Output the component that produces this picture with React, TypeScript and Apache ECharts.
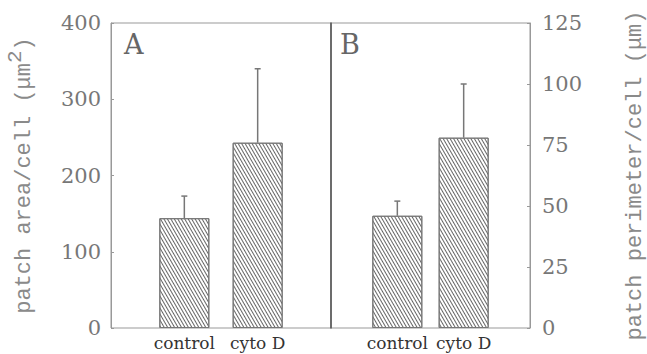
import React, { useEffect, useRef } from "react";
import * as echarts from "echarts";

const categories = ["", "control", "cyto D", ""];
const areaMeans = ["-", 144, 243, "-"];
const areaUpper = [
  [1, 144, 173],
  [2, 243, 340],
];
const perimMeans = ["-", 46, 78, "-"];
const perimUpper = [
  [1, 46, 52],
  [2, 78, 100],
];
const areaTicks = { min: 0, max: 400, interval: 100 };
const perimTicks = { min: 0, max: 125, interval: 25 };
const panelLabels = ["A", "B"];

const GRAY = "#8a8a8a";
const DARK = "#555";

const decal = {
  symbol: "rect",
  symbolSize: 1,
  dashArrayX: [1, 0],
  dashArrayY: [1, 2],
  rotation: Math.PI / 3,
  color: "#666",
  backgroundColor: "#eee",
};

function errRender(params: any, api: any) {
  const x = api.value(0);
  const lo = api.coord([x, api.value(1)]);
  const hi = api.coord([x, api.value(2)]);
  const style = { stroke: "#777", lineWidth: 1.5 };
  return {
    type: "group",
    children: [
      { type: "line", shape: { x1: lo[0], y1: lo[1], x2: hi[0], y2: hi[1] }, style },
      { type: "line", shape: { x1: hi[0] - 3, y1: hi[1], x2: hi[0] + 3, y2: hi[1] }, style },
    ],
  };
}

export default function App() {
  const ref = useRef<HTMLDivElement>(null);
  useEffect(() => {
    const chart = echarts.init(ref.current!, null, { renderer: "svg" });
    const tickLabel = { fontFamily: "DejaVu Serif", fontSize: 21, color: "#777" };
    const nameRich = {
      a: { fontFamily: "Liberation Mono", fontSize: 22, color: GRAY, lineHeight: 30, verticalAlign: "bottom" },
      s: { fontFamily: "Liberation Mono", fontSize: 21, color: GRAY, lineHeight: 30, verticalAlign: "top" },
    };
    const xAxisCommon = {
      type: "category",
      data: categories,
      boundaryGap: false,
      axisLine: { show: false },
      axisTick: { show: false },
      axisLabel: {
        interval: 0,
        fontFamily: "DejaVu Serif",
        fontSize: 17,
        color: "#333",
        margin: 6,
      },
    };
    chart.setOption({
      animation: false,
      backgroundColor: "#fff",
      grid: [
        { left: 111, top: 23, width: 220, height: 305, show: true, borderColor: "#999", borderWidth: 1 },
        { left: 331, top: 23, width: 220, height: 305, show: true, borderColor: "#999", borderWidth: 1 },
      ],
      xAxis: [
        { ...xAxisCommon, gridIndex: 0 },
        { ...xAxisCommon, gridIndex: 1 },
      ],
      yAxis: [
        {
          type: "value",
          gridIndex: 0,
          position: "left",
          ...areaTicks,
          splitLine: { show: false },
          axisLine: { show: true, lineStyle: { color: "#999" } },
          axisTick: { show: true, inside: true, length: 3, lineStyle: { color: "#999" } },
          axisLabel: { ...tickLabel, margin: 10 },
          name: "{a|patch area/cell (μm}{s|2}{a|)}",
          nameLocation: "middle",
          nameRotate: 90,
          nameGap: 76,
          nameTextStyle: { rich: nameRich },
        },
        {
          type: "value",
          gridIndex: 1,
          position: "right",
          ...perimTicks,
          splitLine: { show: false },
          axisLine: { show: true, lineStyle: { color: "#999" } },
          axisTick: { show: true, inside: true, length: 3, lineStyle: { color: "#999" } },
          axisLabel: { ...tickLabel, margin: 12 },
          name: "{a|patch perimeter/cell (μm)}",
          nameLocation: "middle",
          nameRotate: 90,
          nameGap: 86,
          nameTextStyle: { rich: nameRich },
        },
        {
          type: "value",
          gridIndex: 1,
          position: "left",
          ...perimTicks,
          splitLine: { show: false },
          axisLine: { show: true, lineStyle: { color: DARK, width: 1.5 } },
          axisTick: { show: false },
          axisLabel: { show: false },
        },
      ],
      series: [
        {
          type: "bar",
          xAxisIndex: 0,
          yAxisIndex: 0,
          data: areaMeans,
          barWidth: 50,
          itemStyle: { color: "#fff", borderColor: "#777", borderWidth: 1, decal },
        },
        {
          type: "custom",
          xAxisIndex: 0,
          yAxisIndex: 0,
          data: areaUpper,
          renderItem: errRender,
          z: 1,
        },
        {
          type: "bar",
          xAxisIndex: 1,
          yAxisIndex: 1,
          data: perimMeans,
          barWidth: 50,
          itemStyle: { color: "#fff", borderColor: "#777", borderWidth: 1, decal },
        },
        {
          type: "custom",
          xAxisIndex: 1,
          yAxisIndex: 1,
          data: perimUpper,
          renderItem: errRender,
          z: 1,
        },
      ],
      graphic: [
        { type: "text", left: 124, top: 31, style: { text: panelLabels[0], font: "27px 'DejaVu Serif'", fill: "#666" } },
        { type: "text", left: 340, top: 31, style: { text: panelLabels[1], font: "27px 'DejaVu Serif'", fill: "#666" } },
      ],
    });
    return () => chart.dispose();
  }, []);
  return (
    <div
      ref={ref}
      style={{ position: "fixed", left: 0, top: 0, width: 647, height: 354 }}
    />
  );
}
